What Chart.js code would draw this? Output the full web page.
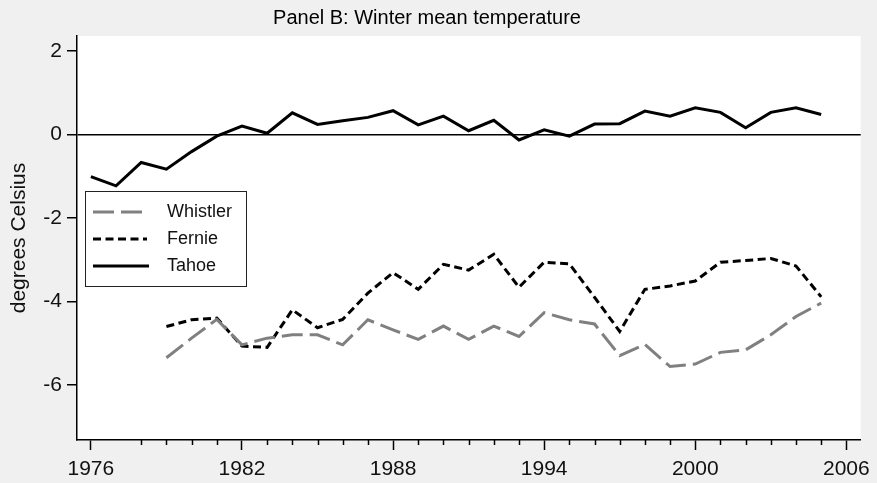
<!DOCTYPE html>
<html>
<head>
<meta charset="utf-8">
<script src="https://cdn.jsdelivr.net/npm/chart.js@4/dist/chart.umd.min.js"></script>
<style>
    html, body { margin: 0; padding: 0; background: #f0f0f0; }
    #wrap { width: 877px; height: 483px; }
    canvas { background: #f0f0f0; }
</style>
</head>
<body>
<div id="wrap"><canvas id="my-chart" width="877" height="483"></canvas></div>
<script>
const years = [1976, 1977, 1978, 1979, 1980, 1981, 1982, 1983, 1984, 1985,
    1986, 1987, 1988, 1989, 1990, 1991, 1992, 1993, 1994, 1995,
    1996, 1997, 1998, 1999, 2000, 2001, 2002, 2003, 2004, 2005];

const whistler = [null, null, null, -5.35, -4.88, -4.43, -5.04, -4.88, -4.80, -4.80,
    -5.04, -4.44, -4.68, -4.91, -4.59, -4.91, -4.59, -4.84, -4.27, -4.44,
    -4.54, -5.30, -5.03, -5.56, -5.50, -5.22, -5.16, -4.80, -4.36, -4.04];

const fernie = [null, null, null, -4.60, -4.44, -4.40, -5.07, -5.10, -4.20, -4.63,
    -4.43, -3.80, -3.31, -3.71, -3.11, -3.25, -2.87, -3.66, -3.06, -3.10,
    -3.90, -4.72, -3.71, -3.63, -3.51, -3.06, -3.02, -2.97, -3.15, -3.89];

const tahoe = [-1.01, -1.23, -0.67, -0.83, -0.41, -0.04, 0.20, 0.03, 0.52, 0.24,
    0.33, 0.41, 0.57, 0.23, 0.44, 0.09, 0.34, -0.13, 0.11, -0.04,
    0.25, 0.26, 0.56, 0.44, 0.64, 0.53, 0.16, 0.53, 0.64, 0.48];

const yTicks = [-6, -4, -2, 0, 2];
const xMajorTicks = [1976, 1982, 1988, 1994, 2000, 2006];
const xMinorTicks = [1978, 1979, 1980, 1981, 1983, 1984, 1985, 1986, 1987, 1989,
    1990, 1991, 1992, 1993, 1995, 1996, 1997, 1998, 1999, 2001,
    2002, 2003, 2004, 2005];

const FONT = '"Liberation Sans", Arial, sans-serif';

function points(values) {
    return years.map((y, i) => ({ x: y, y: values[i] }));
}

// white plot area
const plotBg = {
    id: 'plotBg',
    beforeDraw(chart) {
        const { ctx, chartArea: a } = chart;
        ctx.save();
        ctx.fillStyle = '#ffffff';
        ctx.fillRect(a.left, a.top, a.right - a.left, a.bottom - a.top);
        ctx.restore();
    }
};

// short ticks for the in-between years
const minorTicks = {
    id: 'minorTicks',
    afterDraw(chart) {
        const { ctx, scales } = chart;
        const x = scales.x;
        ctx.save();
        ctx.strokeStyle = '#000';
        ctx.lineWidth = 1.5;
        xMinorTicks.forEach(v => {
            const px = Math.round(x.getPixelForValue(v)) + 0.5;
            ctx.beginPath();
            ctx.moveTo(px, x.top);
            ctx.lineTo(px, x.top + 5);
            ctx.stroke();
        });
        ctx.restore();
    }
};

const panelTitle = {
    id: 'panelTitle',
    afterDraw(chart) {
        const ctx = chart.ctx;
        ctx.save();
        ctx.fillStyle = '#000';
        ctx.font = '20px ' + FONT;
        ctx.textAlign = 'center';
        ctx.textBaseline = 'middle';
        ctx.fillText('Panel B: Winter mean temperature', 427, 18);
        ctx.restore();
    }
};

// boxed legend inside the plot
const boxLegend = {
    id: 'boxLegend',
    afterDraw(chart) {
        const ctx = chart.ctx;
        const order = [0, 1, 2];
        const bx = 85.5, by = 191.5, bw = 161, bh = 95;
        ctx.save();
        ctx.fillStyle = '#fff';
        ctx.fillRect(bx, by, bw, bh);
        ctx.strokeStyle = '#222';
        ctx.lineWidth = 1;
        ctx.strokeRect(bx, by, bw, bh);
        ctx.font = '18px ' + FONT;
        ctx.textBaseline = 'middle';
        order.forEach((di, i) => {
            const ds = chart.data.datasets[di];
            const y = 212 + i * 27;
            ctx.strokeStyle = ds.borderColor;
            ctx.lineWidth = ds.borderWidth;
            ctx.setLineDash(ds.borderDash || []);
            ctx.beginPath();
            ctx.moveTo(93, y);
            ctx.lineTo(ds.legendEnd, y);
            ctx.stroke();
            ctx.setLineDash([]);
            ctx.fillStyle = '#111';
            ctx.fillText(ds.label, 167, y);
        });
        ctx.restore();
    }
};

document.addEventListener('DOMContentLoaded', () => {
    const ctx = document.getElementById('my-chart').getContext('2d');

    new Chart(ctx, {
        type: 'line',
        data: {
            datasets: [
                {
                    label: 'Whistler',
                    data: points(whistler),
                    borderColor: '#808080',
                    borderWidth: 3,
                    borderDash: [21, 7],
                    legendEnd: 143,
                    pointRadius: 0,
                    tension: 0
                },
                {
                    label: 'Fernie',
                    data: points(fernie),
                    borderColor: '#000000',
                    borderWidth: 3,
                    borderDash: [8, 4.5],
                    legendEnd: 147,
                    pointRadius: 0,
                    tension: 0
                },
                {
                    label: 'Tahoe',
                    data: points(tahoe),
                    borderColor: '#000000',
                    borderWidth: 3,
                    legendEnd: 149,
                    pointRadius: 0,
                    tension: 0
                }
            ]
        },
        options: {
            responsive: false,
            animation: false,
            layout: { padding: { top: 36, right: 15, left: 0, bottom: 0 } },
            scales: {
                x: {
                    type: 'linear',
                    min: 1975.45,
                    max: 2006.57,
                    afterBuildTicks: s => { s.ticks = xMajorTicks.map(v => ({ value: v })); },
                    afterFit: s => { s.height = 43; },
                    grid: {
                        drawOnChartArea: false,
                        tickLength: 10,
                        tickWidth: 1.5,
                        tickColor: '#000'
                    },
                    border: { color: '#000', width: 1.5 },
                    ticks: {
                        color: '#111',
                        font: { family: FONT, size: 21 },
                        padding: 7,
                        maxRotation: 0,
                        autoSkip: false,
                        callback: v => String(v)
                    }
                },
                y: {
                    min: -7.32,
                    max: 2.36,
                    afterBuildTicks: s => { s.ticks = yTicks.map(v => ({ value: v })); },
                    afterFit: s => { s.width = 77; },
                    grid: {
                        color: c => (c.tick && c.tick.value === 0 ? '#000' : 'rgba(0,0,0,0)'),
                        lineWidth: 1.5,
                        tickLength: 10,
                        tickWidth: 1.5,
                        tickColor: '#000'
                    },
                    border: { color: '#000', width: 1.5 },
                    ticks: {
                        color: '#111',
                        font: { family: FONT, size: 21 },
                        padding: 5
                    },
                    title: {
                        display: true,
                        text: 'degrees Celsius',
                        color: '#111',
                        font: { family: FONT, size: 21 },
                        padding: { top: 7, bottom: 0 }
                    }
                }
            },
            plugins: {
                legend: { display: false },
                title: { display: false },
                tooltip: { enabled: false }
            }
        },
        plugins: [plotBg, minorTicks, panelTitle, boxLegend]
    });
});
</script>
</body>
</html>
